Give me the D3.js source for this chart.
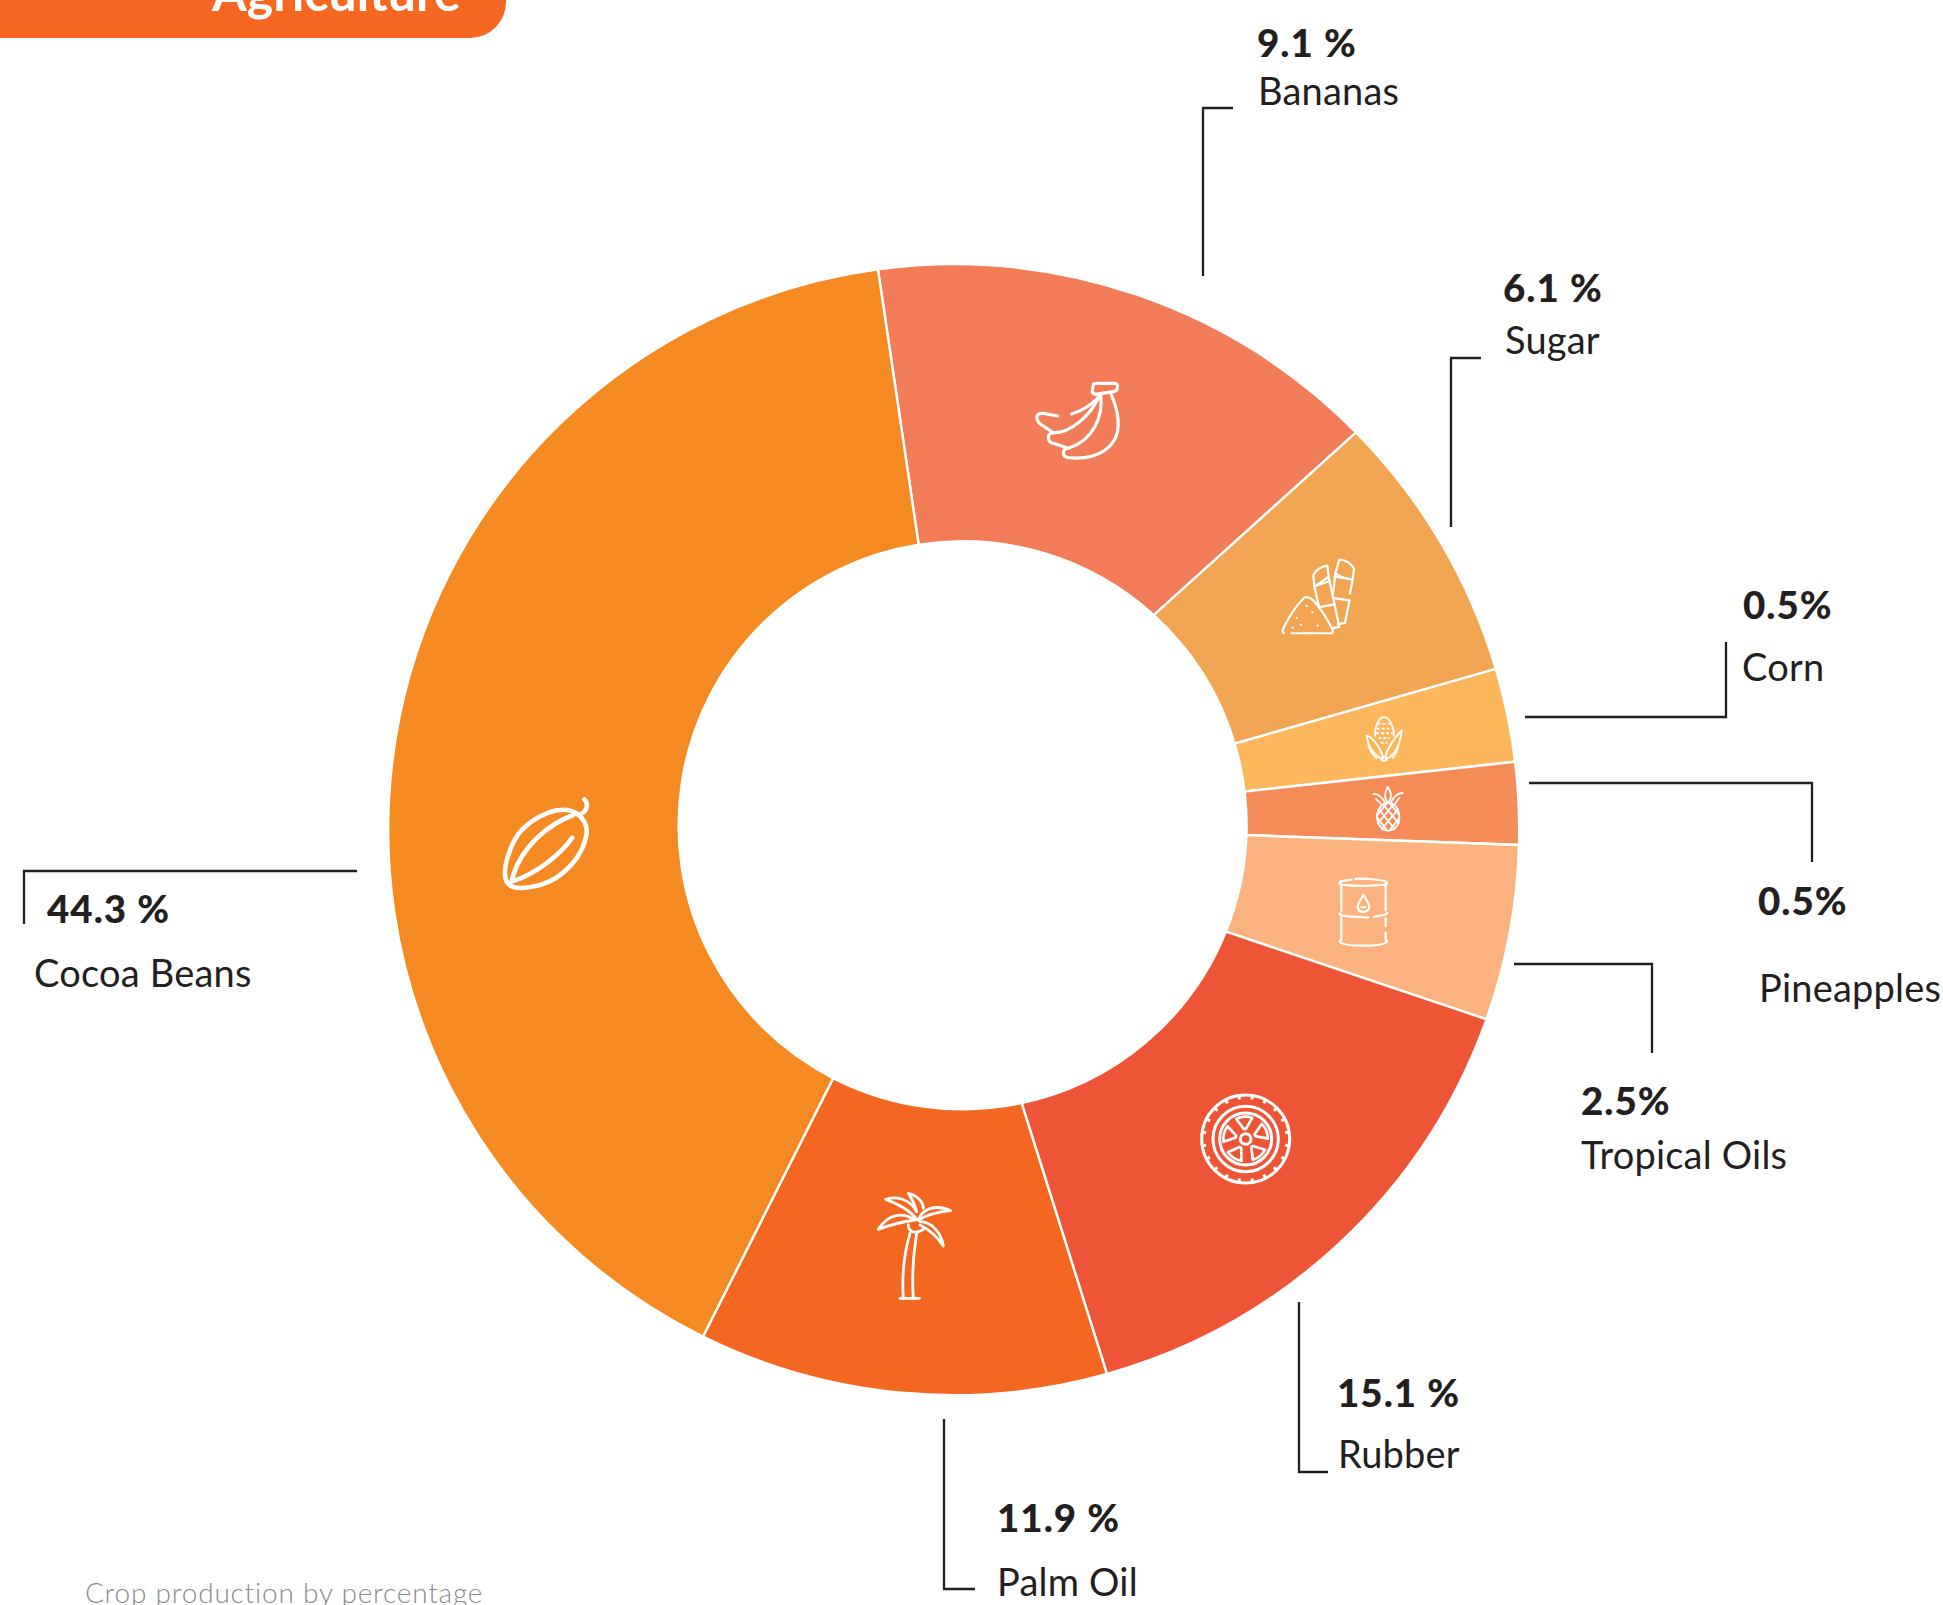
<!DOCTYPE html>
<html><head><meta charset="utf-8">
<script src="https://cdnjs.cloudflare.com/ajax/libs/d3/7.8.5/d3.min.js"></script>
<style>
html,body{margin:0;padding:0;background:#fff;overflow:hidden}
svg{display:block}
text{font-family:Lato,"Open Sans",sans-serif;fill:#231f20}
</style></head><body>
<svg id="c" width="1943" height="1605"></svg>
<script>
// Data: clockwise starting from Bananas
const crops = ["Bananas","Sugar","Corn","Pineapples","Tropical Oils","Rubber","Palm Oil","Cocoa Beans"];
const printedLabels = ["9.1 %","6.1 %","0.5%","0.5%","2.5%","15.1 %","11.9 %","44.3 %"];
// Share of the ring as actually drawn, read at the outer and at the inner edge (percent of the circle)
const outerShare = [14.74,7.81,2.67,2.35,5.01,15.19,11.68,40.55];
const innerShare = [14.22,8.61,2.75,2.44,5.56,15.56,10.86,40.0];
const colors = ["#F27B58","#F2A654","#FCB75D","#F58C58","#FBB27F","#EE5537","#F46720","#F48A21"];

const svg = d3.select("#c");
const rad = d => d*Math.PI/180;
const outerC = {x:953.7,y:829.7,r:565.5}, innerC = {x:962.6,y:825.3,r:284};
const pieOuter = d3.pie().sort(null).startAngle(rad(-7.7)).endAngle(rad(352.3))(outerShare);
const pieInner = d3.pie().sort(null).startAngle(rad(-8.9)).endAngle(rad(351.1))(innerShare);

svg.selectAll("path.slice").data(crops).join("path").attr("class","slice")
  .attr("fill",(d,i)=>colors[i]).attr("stroke","#fff").attr("stroke-width",2.4)
  .attr("d",(d,i)=>{
    const o=pieOuter[i], n=pieInner[i], p=d3.path(), q=Math.PI/2;
    p.arc(outerC.x,outerC.y,outerC.r,o.startAngle-q,o.endAngle-q);
    p.arc(innerC.x,innerC.y,innerC.r,n.endAngle-q,n.startAngle-q,true);
    p.closePath();
    return p.toString();
  });

// Banner
svg.append("path").attr("fill","#F66722").attr("d","M0 0H506V2A36 36 0 0 1 470 38H0Z");
svg.append("text").text("Agriculture").attr("x",212).attr("y",11).attr("font-size",50).attr("font-weight",700).style("fill","#fff");

// Leaders
const leaders = [
 [[1233,108],[1203,108],[1203,276]],
 [[1481,358],[1451,358],[1451,527]],
 [[1726,642],[1726,717],[1525,717]],
 [[1529,783],[1812,783],[1812,862]],
 [[1514,964],[1652,964],[1652,1053]],
 [[1299,1302],[1299,1472],[1328,1472]],
 [[944,1419],[944,1589],[975,1589]],
 [[357,871],[24,871],[24,924]]
];
svg.selectAll("path.leader").data(leaders).join("path").attr("class","leader")
  .attr("fill","none").attr("stroke","#231f20").attr("stroke-width",2.3)
  .attr("d",d3.line());

// Labels
const pctPos = [[1257,56.5],[1503,301.5],[1743,618.5],[1758,914.5],[1581,1114.5],[1337,1406.5],[997,1531.5],[47,922.5]];
const namePos = [[1258,104.5],[1505,353.5],[1742,680.5],[1759,1001.5],[1581,1168.5],[1338,1467.5],[997,1595.5],[34,986.5]];
svg.selectAll("text.pct").data(printedLabels).join("text").attr("class","pct")
  .text(d=>d).attr("x",(d,i)=>pctPos[i][0]).attr("y",(d,i)=>pctPos[i][1])
  .attr("font-size",38.5).attr("font-weight",900).attr("letter-spacing",1);
svg.selectAll("text.name").data(crops).join("text").attr("class","name")
  .text(d=>d).attr("x",(d,i)=>namePos[i][0]).attr("y",(d,i)=>namePos[i][1])
  .attr("font-size",38).attr("font-weight",400).attr("letter-spacing",0.2);
svg.append("text").text("Crop production by percentage").attr("x",85).attr("y",1603)
  .attr("font-size",28).attr("font-weight",300).attr("letter-spacing",0.8).style("fill","#8a8a8c");

// Icons (decoration, traced in crop-space units)
const ICON_W = 2.4;
function icon(tx,ty,sx,sy,paths,w){
  const g = svg.append("g").attr("transform",`translate(${tx},${ty}) scale(${sx},${sy})`);
  paths.forEach(d=>g.append("path").attr("d",d).attr("fill","none").attr("stroke","#fff")
    .attr("stroke-width",w||ICON_W).attr("stroke-linecap","round").attr("stroke-linejoin","round")
    .attr("vector-effect","non-scaling-stroke"));
  return g;
}
// cocoa
icon(440,760,1/3,1/3,[
 "M410 160C360 130 285 170 245 210C210 250 190 320 196 352C200 388 240 390 300 375C370 355 430 290 440 220C442 195 430 175 410 160Z",
 "M415 165C437 160 450 135 433 118",
 "M400 165C330 190 240 260 215 362",
 "M215 365C290 340 360 285 397 233"],4.6);
// banana
icon(1000,360,1/3,1/3,[
 "M280 75Q280 70 290 70L345 70Q355 72 352 85Q350 93 340 95L285 103Q275 100 277 90Z",
 "M332 100C355 150 365 210 340 245C310 290 250 298 205 293C185 290 185 265 205 265C280 240 310 170 302 105",
 "M205 265L160 250C140 245 140 220 160 218C210 220 270 170 298 108",
 "M160 218L125 195C105 180 105 158 130 160L173 168",
 "M215 162C245 152 275 135 296 110"],3.2);
const zx=1/3, zy=1/2.529;
// sugar
icon(1000,360,zx,zy,[
 "M852 690C845 690 848 682 852 675C870 645 890 620 910 603C920 597 930 600 940 608C965 630 985 660 998 682C1000 690 995 692 990 691L875 691",
 "M940 545C945 532 965 522 982 520L986 548C975 555 955 568 943 572Z",
 "M943 572L957 625","M986 548L1018 675L998 678","M958 625L1003 618","M943 572L985 560",
 "M1018 505C1035 505 1055 515 1062 528L1058 555C1040 555 1015 545 1006 540Z",
 "M1006 540L998 600","M1058 555L1050 590","M1048 610L1035 665L1013 668","M1001 602L1048 608","M1004 548L1055 555",
 "M890 652h.1","M920 622h.1","M937 638h.1","M903 670h.1","M878 677h.1","M953 672h.1"],2.2);
// corn
const cornIcon = icon(1000,360,zx,zy,[
 "M1125 950C1125 920 1140 903 1152 903C1165 903 1180 920 1182 950",
 "M1100 950C1120 955 1140 980 1150 1005","M1205 937C1190 950 1165 975 1155 1005",
 "M1100 950C1105 985 1125 1000 1148 1010","M1205 937C1200 980 1180 1000 1158 1010",
 "M1145 1005H1160V1013H1145Z",
 "M1105 975C1110 990 1120 1000 1130 1007","M1195 975C1192 990 1185 1000 1177 1006",
 "M1133 920H1172","M1130 932H1176","M1128 944H1178","M1135 956H1170","M1142 968H1162"],1.8);
cornIcon.selectAll("path").filter((d,i)=>i>=8).attr("stroke-dasharray","3 2").attr("stroke-linecap","butt");
// pineapple
icon(1000,360,zx,zy,[
 "M1131 1155C1131 1135 1148 1120 1165 1120C1183 1120 1198 1135 1198 1155C1198 1177 1183 1190 1165 1190C1148 1190 1131 1177 1131 1155Z",
 "M1120 1098C1135 1095 1150 1110 1155 1120","M1208 1095C1190 1095 1175 1110 1172 1122",
 "M1163 1080C1155 1090 1150 1110 1165 1120","M1163 1080C1172 1090 1178 1105 1165 1120",
 "M1128 1110C1135 1115 1140 1120 1145 1125","M1198 1108C1192 1112 1188 1118 1184 1125",
 "M1136 1136L1184 1186","M1150 1124L1196 1172","M1168 1120L1197 1150","M1132 1158L1160 1188",
 "M1194 1136L1146 1186","M1180 1124L1134 1172","M1162 1120L1133 1150","M1198 1158L1170 1188"],1.8);
// barrel
icon(1000,360,zx,zy,[
 "M1055 1314C1035 1316 1018 1318 1018 1323C1018 1332 1160 1332 1162 1323C1162 1316 1110 1311 1066 1312",
 "M1024 1330V1395","M1157 1330V1392","M1024 1408V1468","M1157 1412V1432","M1157 1448V1468",
 "M1018 1400C1020 1408 1060 1408 1105 1410","M1122 1408C1140 1406 1160 1404 1162 1398",
 "M1018 1470C1030 1485 1150 1485 1162 1470",
 "M1090 1352C1080 1370 1072 1375 1073 1383C1075 1400 1105 1400 1108 1383C1108 1375 1098 1365 1090 1352Z",
 "M1084 1384H1096"],2.2);
// tyre
icon(1180,1070,1/3,1/3,[
 "M329 207A132 132 0 1 1 65 207A132 132 0 1 1 329 207Z",
 "M295 207A98 98 0 1 1 99 207A98 98 0 1 1 295 207Z",
 "M275 207A78 78 0 1 1 119 207A78 78 0 1 1 275 207Z",
 "M213 207A16 16 0 1 1 181 207A16 16 0 1 1 213 207Z"],3);
const tick = svg.append("g").attr("transform","translate(1180,1070) scale(0.3333) translate(197,207)");
tick.selectAll("path.t").data(d3.range(20)).join("path").attr("class","t").attr("d","M0 -132V-120").attr("transform",d=>`rotate(${d*18+9})`)
  .attr("stroke","#fff").attr("stroke-width",9);
tick.selectAll("path.w").data(d3.range(5)).join("path").attr("class","w")
  .attr("d","M-3 -30L-24 -62Q0 -72 24 -62L3 -30Z").attr("transform",d=>`rotate(${d*72-4})`)
  .attr("fill","none").attr("stroke","#fff").attr("stroke-width",8).attr("stroke-linejoin","round");
// palm
icon(860,1170,1/3,1/3,[
 "M150 190C135 240 125 310 130 385","M170 190C160 250 155 310 160 385","M120 385H178",
 "M145 165C145 185 165 195 190 178",
 "M172 150C150 120 110 100 77 88C105 78 150 85 170 125",
 "M170 125C165 105 155 85 145 70C170 75 190 95 190 115",
 "M175 150C185 120 220 100 272 122C240 125 200 135 175 150",
 "M165 150C130 125 85 130 55 178C90 165 130 155 165 150",
 "M180 155C215 155 245 190 250 228C235 205 210 180 180 165"],2.8);
</script>
</body></html>
